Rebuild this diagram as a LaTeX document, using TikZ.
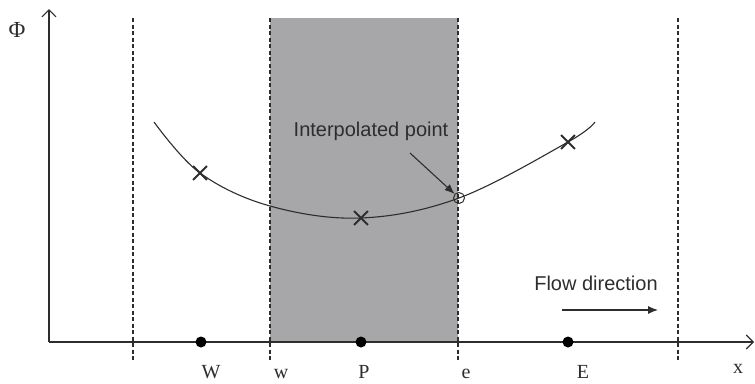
\documentclass[tikz,border=0pt]{standalone}
\usepackage{fontspec}
\setmainfont{Liberation Serif}
\newfontfamily\sansf{Liberation Sans}
\usetikzlibrary{arrows.meta,shapes.misc}
\definecolor{cvgray}{RGB}{167,167,169}
\definecolor{ink}{RGB}{45,45,45}
\begin{document}
\begin{tikzpicture}[x=1pt,y=-1pt,
  axis/.style={draw=ink, line width=1.3pt, -{Straight Barb[length=7pt,width=14pt,line width=1.1pt]}},
  dashline/.style={draw=ink, line width=1.1pt, dash pattern=on 4pt off 2.5pt},
  curveline/.style={draw=ink, line width=1.1pt},
  dot/.style={circle, fill=black, inner sep=0pt, minimum size=11pt},
  xmark/.style={cross out, draw=ink, line width=1.9pt, minimum size=12pt, inner sep=0pt},
  ipmark/.style={circle, draw=ink, line width=1pt, minimum size=11pt, inner sep=0pt},
  pointer/.style={draw=ink, line width=1.1pt, -{Latex[length=10pt,width=8pt]}},
  serlabel/.style={font=\fontsize{20}{20}\selectfont, text=ink, anchor=base, inner sep=0pt},
  sanslabel/.style={font=\sansf\fontsize{20}{20}\selectfont, text=ink, inner sep=0pt}
]
\useasboundingbox (0,0) rectangle (755,383);
% shaded control volume
\fill[cvgray] (270,18) rectangle (458,342);
% dashed faces
\coordinate (d1t) at (133,18);  \coordinate (d1b) at (133,362);
\coordinate (d2t) at (270,18);  \coordinate (d2b) at (270,362);
\coordinate (d3t) at (458,18);  \coordinate (d3b) at (458,362);
\coordinate (d4t) at (678,18);  \coordinate (d4b) at (678,362);
\draw[dashline] (d1t) -- (d1b);
\draw[dashline] (d2t) -- (d2b);
\draw[dashline] (d3t) -- (d3b);
\draw[dashline] (d4t) -- (d4b);
% axes
\coordinate (O) at (49,342);
\coordinate (ytop) at (49,9);
\coordinate (xend) at (754,342);
\draw[axis] (O) -- (ytop);
\draw[axis] (O) -- (xend);
\node[font=\fontsize{23}{23}\selectfont, text=ink, inner sep=0pt] (phi) at (17,30) {Φ};
% curve
\draw[curveline] plot[smooth, tension=0.6] coordinates {(154,122) (200,173) (270,206) (361,218) (459,198) (568,142) (595,122)};
% markers
\node[xmark] (xW) at (200,173) {};
\node[xmark] (xP) at (361,218) {};
\node[xmark] (xE) at (568,142) {};
\node[ipmark] (ip) at (459,198) {};
% nodes on axis
\node[dot] (W) at (201,342) {};
\node[dot] (P) at (361,342) {};
\node[dot] (E) at (568,342) {};
% labels
\node[serlabel] (lW) at (211,378) {W};
\node[serlabel] (lw) at (281,378) {w};
\node[serlabel] (lP) at (364,378) {P};
\node[serlabel] (le) at (466,378) {e};
\node[serlabel] (lE) at (583,378) {E};
\node[serlabel] (lx) at (738,373) {x};
% interpolated point
\node[sanslabel] (iptext) at (371,131) {Interpolated point};
\coordinate (ipstart) at (410,153);
\draw[pointer] (ipstart) -- (ip);
% flow direction
\node[sanslabel] (flowtext) at (596,283) {Flow direction};
\coordinate (fa) at (562,310);
\coordinate (fb) at (658,310);
\draw[pointer] (fa) -- (fb);
\end{tikzpicture}
\end{document}
